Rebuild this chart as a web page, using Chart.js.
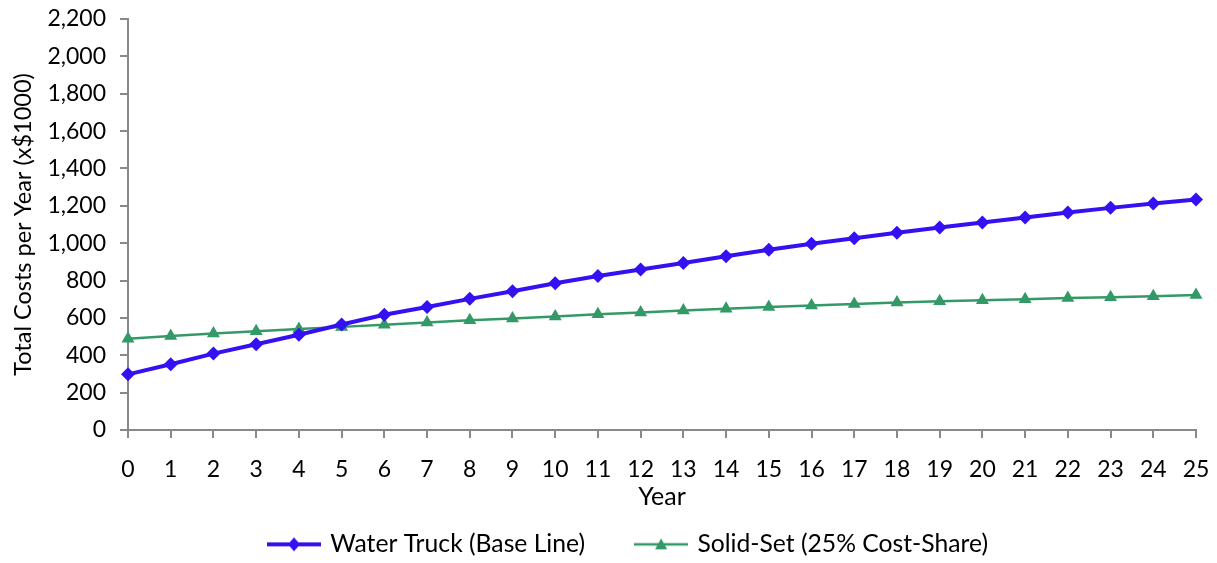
<!DOCTYPE html>
<html>
<head>
<meta charset="utf-8">
<script src="https://cdn.jsdelivr.net/npm/chart.js@4.4.0/dist/chart.umd.min.js"></script>
<style>
html,body{margin:0;padding:0;background:#fff;}
#wrap{width:1217px;height:563px;position:relative;}
</style>
</head>
<body>
<div id="wrap"><canvas id="c" width="1217" height="563"></canvas></div>
<script>
const years = ['0','1','2','3','4','5','6','7','8','9','10','11','12','13','14','15','16','17','18','19','20','21','22','23','24','25'];
const waterTruck = [298,352,409,459,510,565,617,658,702,743,786,824,859,894,930,965,997,1026,1056,1084,1111,1138,1164,1189,1212,1234];
const solidSet = [489,503,517,529,540,552,564,576,587,597,608,619,629,639,649,659,667,675,682,689,695,700,706,711,716,722];
const yTicks = [0,200,400,600,800,1000,1200,1400,1600,1800,2000,2200];

const BLUE = '#3311F0';
const GREEN = '#339966';
const AXIS = '#898989';
const FONT = 'Lato';

function legendIcon(color, lw, kind) {
  const c = document.createElement('canvas');
  c.width = 54; c.height = 16;
  const x = c.getContext('2d');
  x.strokeStyle = color; x.lineWidth = lw;
  x.beginPath(); x.moveTo(0, 8); x.lineTo(54, 8); x.stroke();
  x.fillStyle = color;
  x.beginPath();
  if (kind === 'diamond') {
    x.moveTo(27, 1); x.lineTo(33, 8); x.lineTo(27, 15); x.lineTo(21, 8);
  } else {
    x.moveTo(27, 2); x.lineTo(33, 13); x.lineTo(21, 13);
  }
  x.closePath(); x.fill();
  return c;
}

// moves the legend box (layout only) to where the reference legend sits
const legendShift = {
  id: 'legendShift',
  afterLayout(chart) {
    const lg = chart.legend;
    if (!lg) return;
    lg.left += 31; lg.right += 31;
    lg.top -= 47;
    lg.height = lg.bottom - lg.top;
  }
};

Chart.defaults.font.family = FONT;
Chart.defaults.color = '#000';

new Chart(document.getElementById('c'), {
  type: 'line',
  data: {
    labels: years,
    datasets: [
      {
        label: 'Water Truck (Base Line)',
        data: waterTruck,
        borderColor: BLUE,
        backgroundColor: BLUE,
        borderWidth: 4,
        pointStyle: 'rectRot',
        pointRadius: 7,
        pointBorderWidth: 0,
        tension: 0
      },
      {
        label: 'Solid-Set (25% Cost-Share)',
        data: solidSet,
        borderColor: GREEN,
        backgroundColor: GREEN,
        borderWidth: 2.5,
        pointStyle: 'triangle',
        pointRadius: 7.5,
        pointBorderWidth: 0,
        tension: 0
      }
    ]
  },
  plugins: [legendShift],
  options: {
    responsive: false,
    animation: false,
    layout: { padding: { left: 0, right: 21, top: 19, bottom: 0 } },
    plugins: {
      tooltip: { enabled: false },
      legend: {
        position: 'bottom',
        maxHeight: 36,
        labels: {
          font: { size: 24.7, family: FONT },
          color: '#000',
          usePointStyle: true,
          pointStyleWidth: 48,
          padding: 52,
          generateLabels: (chart) => [
            { text: 'Water Truck (Base Line)', pointStyle: legendIcon(BLUE, 4, 'diamond'), datasetIndex: 0, fillStyle: BLUE, strokeStyle: BLUE, lineWidth: 0 },
            { text: 'Solid-Set (25% Cost-Share)', pointStyle: legendIcon(GREEN, 2.5, 'triangle'), datasetIndex: 1, fillStyle: GREEN, strokeStyle: GREEN, lineWidth: 0 }
          ]
        }
      }
    },
    scales: {
      x: {
        type: 'category',
        offset: false,
        grid: { drawOnChartArea: false, drawTicks: true, tickLength: 8, color: AXIS, lineWidth: 2 },
        border: { color: AXIS, width: 2 },
        ticks: { font: { size: 23, family: FONT }, color: '#000', padding: 18, maxRotation: 0, autoSkip: false },
        title: { display: true, text: 'Year', font: { size: 25, family: FONT }, color: '#000', padding: { top: 0, bottom: 15 } },
        afterFit: (s) => { s.height = 97; s.paddingLeft = 0; s.paddingRight = 0; }
      },
      y: {
        min: 0, max: 2200,
        afterBuildTicks: (s) => { s.ticks = yTicks.map(v => ({ value: v })); },
        grid: { drawOnChartArea: false, drawTicks: true, tickLength: 8, color: AXIS, lineWidth: 2 },
        border: { color: AXIS, width: 2 },
        ticks: { font: { size: 23, family: FONT }, color: '#000', padding: 14,
          callback: (v) => Number(v).toLocaleString('en-US') },
        title: { display: true, text: 'Total Costs per Year (x$1000)', font: { size: 23.5, family: FONT }, color: '#000', padding: { top: 9, bottom: 0 } },
        afterFit: (s) => { s.width = 128; s.paddingTop = 0; s.paddingBottom = 0; }
      }
    }
  }
});
</script>
</body>
</html>
